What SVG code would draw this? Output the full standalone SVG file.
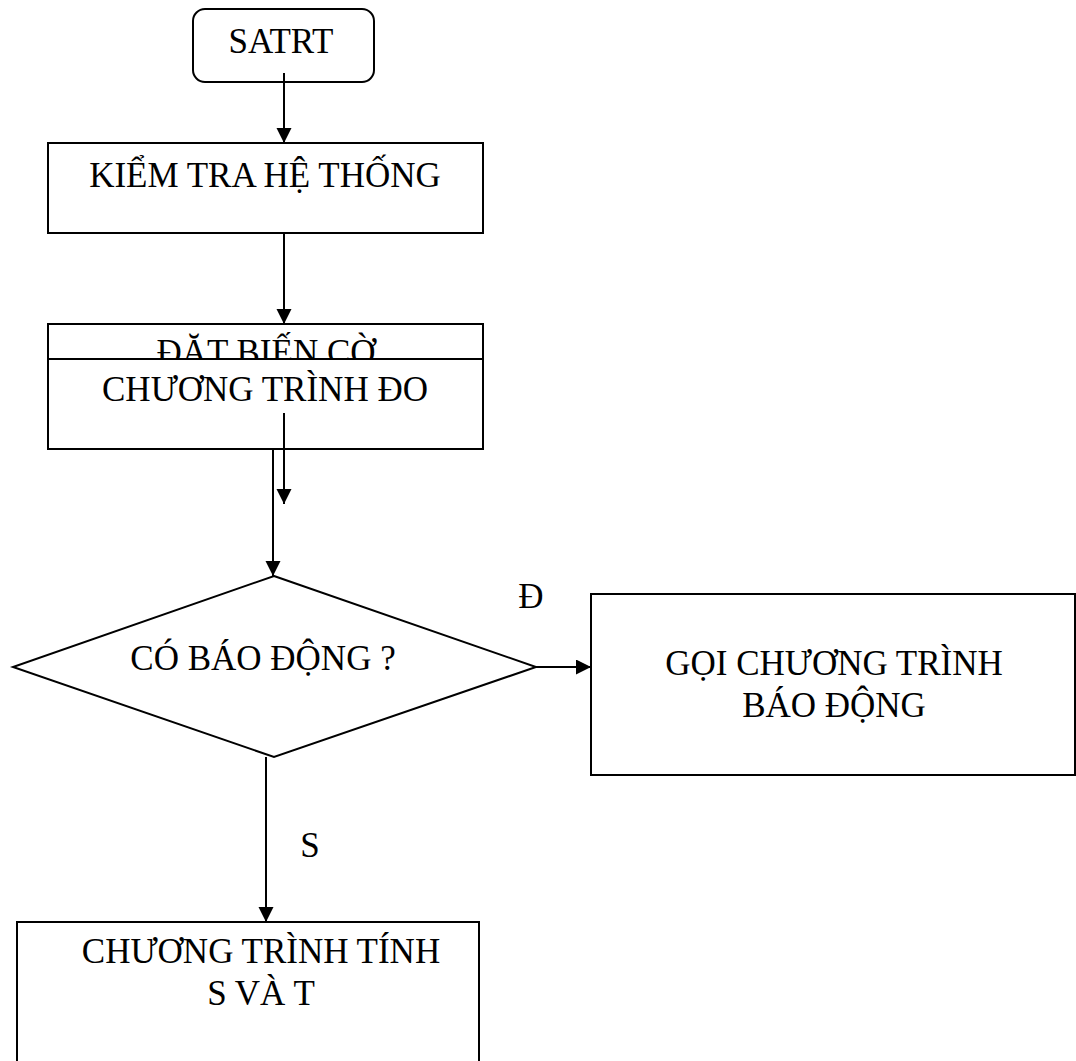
<svg xmlns="http://www.w3.org/2000/svg" width="1076" height="1061" viewBox="0 0 1076 1061">
  <defs>
    <marker id="arrow" markerUnits="userSpaceOnUse" markerWidth="16" markerHeight="16" refX="15" refY="7.5" orient="auto">
      <path d="M0,0 L15,7.5 L0,15 z" fill="#000"/>
    </marker>
    <style>
      .box { fill: #fff; stroke: #000; stroke-width: 2; }
      .lbl { font-family: "Liberation Serif", "Times New Roman", serif; font-size: 35px; fill: #000; text-anchor: middle; }
      .conn { stroke: #000; stroke-width: 2; fill: none; }
    </style>
  </defs>
  <rect width="1076" height="1061" fill="#fff"/>

  <!-- start terminal -->
  <g id="node-start">
    <rect class="box" x="193" y="9" width="181" height="73" rx="12" ry="12"/>
    <text class="lbl" x="281" y="53">SATRT</text>
  </g>

  <!-- system check -->
  <g id="node-check">
    <rect class="box" x="48" y="143" width="435" height="90"/>
    <text class="lbl" x="265" y="187">KIỂM TRA HỆ THỐNG</text>
  </g>

  <!-- set flag (partly covered by the measuring block) -->
  <g id="node-flag">
    <rect class="box" x="48" y="324" width="435" height="89"/>
    <text class="lbl" x="266" y="364">ĐẶT BIẾN CỜ</text>
  </g>

  <!-- measuring routine -->
  <g id="node-measure">
    <rect class="box" x="48" y="359" width="435" height="90"/>
    <text class="lbl" x="265" y="401">CHƯƠNG TRÌNH ĐO</text>
  </g>

  <!-- alarm decision -->
  <g id="node-decision">
    <polygon class="box" points="274,576 536,667 274,757 13,667"/>
    <text class="lbl" x="263" y="670">CÓ BÁO ĐỘNG ?</text>
  </g>

  <!-- alarm routine -->
  <g id="node-alarm">
    <rect class="box" x="591" y="594" width="484" height="181"/>
    <text class="lbl" x="834" y="675">GỌI CHƯƠNG TRÌNH</text>
    <text class="lbl" x="834" y="717">BÁO ĐỘNG</text>
  </g>

  <!-- compute S and T -->
  <g id="node-compute">
    <rect class="box" x="17" y="922" width="462" height="160"/>
    <text class="lbl" x="261" y="963">CHƯƠNG TRÌNH TÍNH</text>
    <text class="lbl" x="261" y="1005">S VÀ T</text>
  </g>

  <!-- flow lines -->
  <g id="connectors">
    <line class="conn" x1="284" y1="73" x2="284" y2="143" marker-end="url(#arrow)"/>
    <line class="conn" x1="284" y1="233" x2="284" y2="324" marker-end="url(#arrow)"/>
    <line class="conn" x1="284" y1="413" x2="284" y2="504" marker-end="url(#arrow)"/>
    <line class="conn" x1="273" y1="449" x2="273" y2="576" marker-end="url(#arrow)"/>
    <line class="conn" x1="536" y1="667" x2="591" y2="667" marker-end="url(#arrow)"/>
    <line class="conn" x1="266" y1="757" x2="266" y2="922" marker-end="url(#arrow)"/>
    <text class="lbl" x="531" y="608">Đ</text>
    <text class="lbl" x="310" y="857">S</text>
  </g>
</svg>
